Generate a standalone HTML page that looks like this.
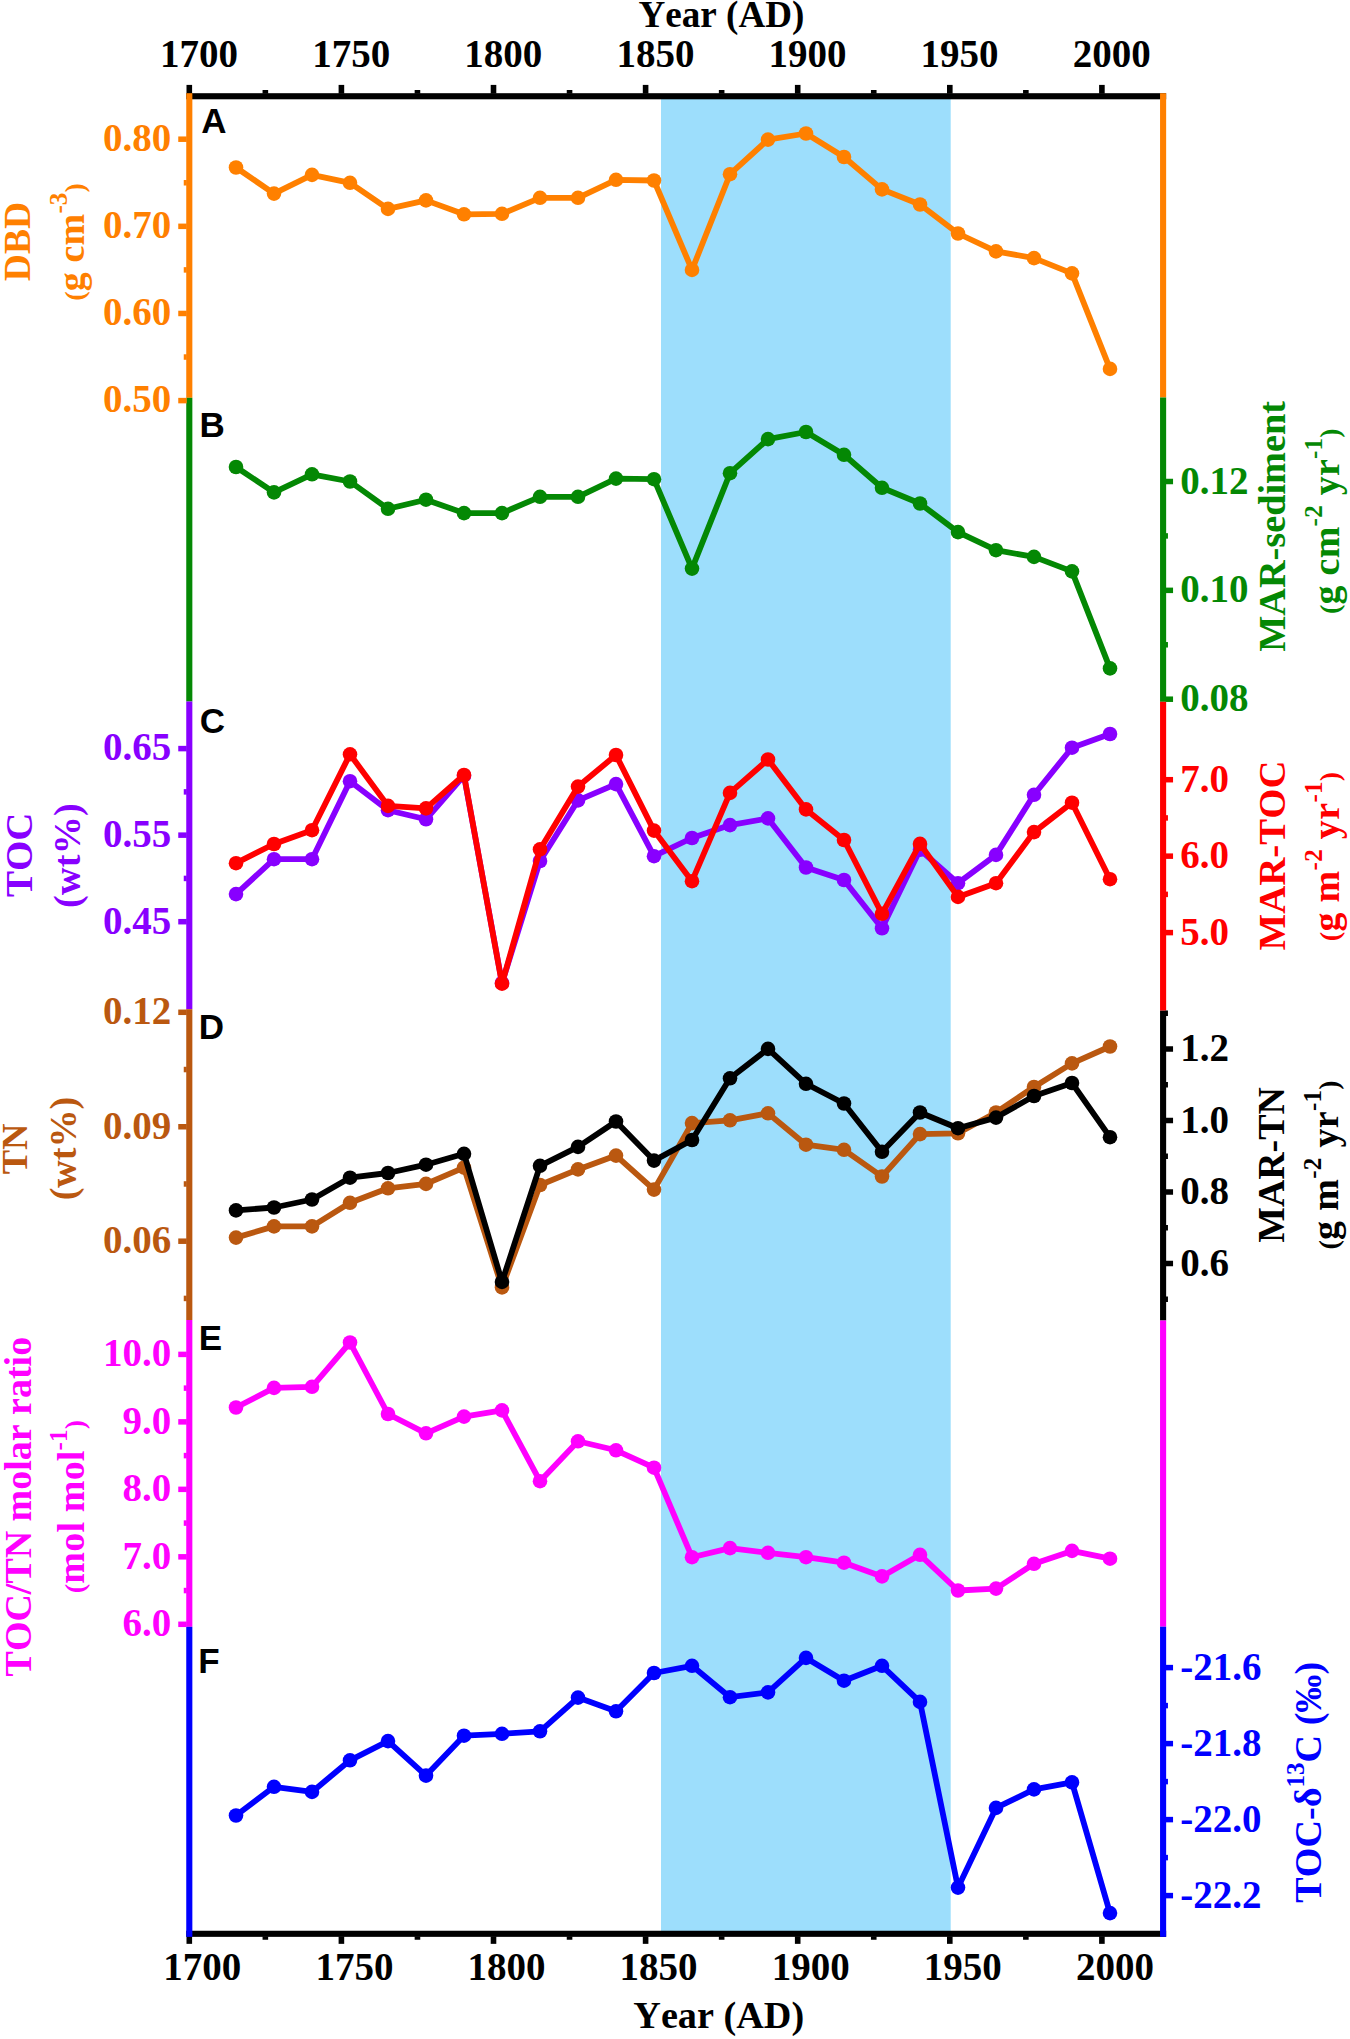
<!DOCTYPE html><html><head><meta charset="utf-8"><style>html,body{margin:0;padding:0;background:#fff;}svg{display:block} text{font-kerning:none}</style></head><body>
<svg width="1350" height="2039" viewBox="0 0 1350 2039">
<rect x="0" y="0" width="1350" height="2039" fill="#fff"/>
<rect x="661.0" y="96.25" width="289.7" height="1837.5" fill="#9DDEFC"/>
<polyline points="236.0,167.5 274.0,193.6 312.0,174.9 350.0,182.8 388.0,208.9 426.0,200.4 464.0,214.3 502.0,213.8 540.0,197.8 578.0,197.8 616.0,179.8 654.0,180.5 692.0,269.9 730.0,174.2 768.0,139.6 806.0,133.5 844.0,157.0 882.0,189.4 920.0,204.5 958.0,233.5 996.0,251.4 1034.0,258.1 1072.0,273.4 1110.0,368.9" fill="none" stroke="#FF8000" stroke-width="5.8" stroke-linejoin="round" stroke-linecap="round"/>
<g fill="#FF8000"><circle cx="236.0" cy="167.5" r="7.3"/><circle cx="274.0" cy="193.6" r="7.3"/><circle cx="312.0" cy="174.9" r="7.3"/><circle cx="350.0" cy="182.8" r="7.3"/><circle cx="388.0" cy="208.9" r="7.3"/><circle cx="426.0" cy="200.4" r="7.3"/><circle cx="464.0" cy="214.3" r="7.3"/><circle cx="502.0" cy="213.8" r="7.3"/><circle cx="540.0" cy="197.8" r="7.3"/><circle cx="578.0" cy="197.8" r="7.3"/><circle cx="616.0" cy="179.8" r="7.3"/><circle cx="654.0" cy="180.5" r="7.3"/><circle cx="692.0" cy="269.9" r="7.3"/><circle cx="730.0" cy="174.2" r="7.3"/><circle cx="768.0" cy="139.6" r="7.3"/><circle cx="806.0" cy="133.5" r="7.3"/><circle cx="844.0" cy="157.0" r="7.3"/><circle cx="882.0" cy="189.4" r="7.3"/><circle cx="920.0" cy="204.5" r="7.3"/><circle cx="958.0" cy="233.5" r="7.3"/><circle cx="996.0" cy="251.4" r="7.3"/><circle cx="1034.0" cy="258.1" r="7.3"/><circle cx="1072.0" cy="273.4" r="7.3"/><circle cx="1110.0" cy="368.9" r="7.3"/></g>
<polyline points="236.0,467.0 274.0,492.4 312.0,474.3 350.0,481.5 388.0,508.8 426.0,499.7 464.0,513.1 502.0,513.1 540.0,496.8 578.0,496.8 616.0,478.6 654.0,479.2 692.0,568.6 730.0,473.2 768.0,439.1 806.0,432.0 844.0,454.8 882.0,487.8 920.0,503.5 958.0,532.1 996.0,550.2 1034.0,556.9 1072.0,571.4 1110.0,668.4" fill="none" stroke="#048804" stroke-width="5.8" stroke-linejoin="round" stroke-linecap="round"/>
<g fill="#048804"><circle cx="236.0" cy="467.0" r="7.3"/><circle cx="274.0" cy="492.4" r="7.3"/><circle cx="312.0" cy="474.3" r="7.3"/><circle cx="350.0" cy="481.5" r="7.3"/><circle cx="388.0" cy="508.8" r="7.3"/><circle cx="426.0" cy="499.7" r="7.3"/><circle cx="464.0" cy="513.1" r="7.3"/><circle cx="502.0" cy="513.1" r="7.3"/><circle cx="540.0" cy="496.8" r="7.3"/><circle cx="578.0" cy="496.8" r="7.3"/><circle cx="616.0" cy="478.6" r="7.3"/><circle cx="654.0" cy="479.2" r="7.3"/><circle cx="692.0" cy="568.6" r="7.3"/><circle cx="730.0" cy="473.2" r="7.3"/><circle cx="768.0" cy="439.1" r="7.3"/><circle cx="806.0" cy="432.0" r="7.3"/><circle cx="844.0" cy="454.8" r="7.3"/><circle cx="882.0" cy="487.8" r="7.3"/><circle cx="920.0" cy="503.5" r="7.3"/><circle cx="958.0" cy="532.1" r="7.3"/><circle cx="996.0" cy="550.2" r="7.3"/><circle cx="1034.0" cy="556.9" r="7.3"/><circle cx="1072.0" cy="571.4" r="7.3"/><circle cx="1110.0" cy="668.4" r="7.3"/></g>
<polyline points="236.0,894.1 274.0,859.2 312.0,859.2 350.0,781.2 388.0,810.2 426.0,819.3 464.0,775.7 502.0,983.0 540.0,861.0 578.0,800.4 616.0,784.1 654.0,856.2 692.0,838.0 730.0,825.1 768.0,818.4 806.0,867.5 844.0,880.0 882.0,928.3 920.0,849.8 958.0,883.2 996.0,854.9 1034.0,794.8 1072.0,747.7 1110.0,734.0" fill="none" stroke="#8800FF" stroke-width="5.8" stroke-linejoin="round" stroke-linecap="round"/>
<g fill="#8800FF"><circle cx="236.0" cy="894.1" r="7.3"/><circle cx="274.0" cy="859.2" r="7.3"/><circle cx="312.0" cy="859.2" r="7.3"/><circle cx="350.0" cy="781.2" r="7.3"/><circle cx="388.0" cy="810.2" r="7.3"/><circle cx="426.0" cy="819.3" r="7.3"/><circle cx="464.0" cy="775.7" r="7.3"/><circle cx="502.0" cy="983.0" r="7.3"/><circle cx="540.0" cy="861.0" r="7.3"/><circle cx="578.0" cy="800.4" r="7.3"/><circle cx="616.0" cy="784.1" r="7.3"/><circle cx="654.0" cy="856.2" r="7.3"/><circle cx="692.0" cy="838.0" r="7.3"/><circle cx="730.0" cy="825.1" r="7.3"/><circle cx="768.0" cy="818.4" r="7.3"/><circle cx="806.0" cy="867.5" r="7.3"/><circle cx="844.0" cy="880.0" r="7.3"/><circle cx="882.0" cy="928.3" r="7.3"/><circle cx="920.0" cy="849.8" r="7.3"/><circle cx="958.0" cy="883.2" r="7.3"/><circle cx="996.0" cy="854.9" r="7.3"/><circle cx="1034.0" cy="794.8" r="7.3"/><circle cx="1072.0" cy="747.7" r="7.3"/><circle cx="1110.0" cy="734.0" r="7.3"/></g>
<polyline points="236.0,863.2 274.0,844.0 312.0,830.2 350.0,754.3 388.0,805.9 426.0,808.4 464.0,775.0 502.0,983.7 540.0,849.4 578.0,786.6 616.0,755.0 654.0,830.6 692.0,881.2 730.0,792.9 768.0,759.5 806.0,809.4 844.0,840.0 882.0,913.8 920.0,843.9 958.0,896.9 996.0,883.2 1034.0,832.1 1072.0,802.7 1110.0,879.2" fill="none" stroke="#FF0000" stroke-width="5.8" stroke-linejoin="round" stroke-linecap="round"/>
<g fill="#FF0000"><circle cx="236.0" cy="863.2" r="7.3"/><circle cx="274.0" cy="844.0" r="7.3"/><circle cx="312.0" cy="830.2" r="7.3"/><circle cx="350.0" cy="754.3" r="7.3"/><circle cx="388.0" cy="805.9" r="7.3"/><circle cx="426.0" cy="808.4" r="7.3"/><circle cx="464.0" cy="775.0" r="7.3"/><circle cx="502.0" cy="983.7" r="7.3"/><circle cx="540.0" cy="849.4" r="7.3"/><circle cx="578.0" cy="786.6" r="7.3"/><circle cx="616.0" cy="755.0" r="7.3"/><circle cx="654.0" cy="830.6" r="7.3"/><circle cx="692.0" cy="881.2" r="7.3"/><circle cx="730.0" cy="792.9" r="7.3"/><circle cx="768.0" cy="759.5" r="7.3"/><circle cx="806.0" cy="809.4" r="7.3"/><circle cx="844.0" cy="840.0" r="7.3"/><circle cx="882.0" cy="913.8" r="7.3"/><circle cx="920.0" cy="843.9" r="7.3"/><circle cx="958.0" cy="896.9" r="7.3"/><circle cx="996.0" cy="883.2" r="7.3"/><circle cx="1034.0" cy="832.1" r="7.3"/><circle cx="1072.0" cy="802.7" r="7.3"/><circle cx="1110.0" cy="879.2" r="7.3"/></g>
<polyline points="236.0,1237.6 274.0,1226.4 312.0,1226.4 350.0,1202.8 388.0,1188.3 426.0,1183.9 464.0,1167.6 502.0,1287.4 540.0,1185.0 578.0,1169.4 616.0,1155.6 654.0,1189.6 692.0,1123.1 730.0,1120.3 768.0,1113.3 806.0,1144.7 844.0,1149.8 882.0,1176.5 920.0,1134.1 958.0,1133.3 996.0,1112.5 1034.0,1087.0 1072.0,1063.4 1110.0,1046.5" fill="none" stroke="#BA5810" stroke-width="5.8" stroke-linejoin="round" stroke-linecap="round"/>
<g fill="#BA5810"><circle cx="236.0" cy="1237.6" r="7.3"/><circle cx="274.0" cy="1226.4" r="7.3"/><circle cx="312.0" cy="1226.4" r="7.3"/><circle cx="350.0" cy="1202.8" r="7.3"/><circle cx="388.0" cy="1188.3" r="7.3"/><circle cx="426.0" cy="1183.9" r="7.3"/><circle cx="464.0" cy="1167.6" r="7.3"/><circle cx="502.0" cy="1287.4" r="7.3"/><circle cx="540.0" cy="1185.0" r="7.3"/><circle cx="578.0" cy="1169.4" r="7.3"/><circle cx="616.0" cy="1155.6" r="7.3"/><circle cx="654.0" cy="1189.6" r="7.3"/><circle cx="692.0" cy="1123.1" r="7.3"/><circle cx="730.0" cy="1120.3" r="7.3"/><circle cx="768.0" cy="1113.3" r="7.3"/><circle cx="806.0" cy="1144.7" r="7.3"/><circle cx="844.0" cy="1149.8" r="7.3"/><circle cx="882.0" cy="1176.5" r="7.3"/><circle cx="920.0" cy="1134.1" r="7.3"/><circle cx="958.0" cy="1133.3" r="7.3"/><circle cx="996.0" cy="1112.5" r="7.3"/><circle cx="1034.0" cy="1087.0" r="7.3"/><circle cx="1072.0" cy="1063.4" r="7.3"/><circle cx="1110.0" cy="1046.5" r="7.3"/></g>
<polyline points="236.0,1210.4 274.0,1207.5 312.0,1199.5 350.0,1177.7 388.0,1173.0 426.0,1164.7 464.0,1153.8 502.0,1281.9 540.0,1165.8 578.0,1146.9 616.0,1121.5 654.0,1160.6 692.0,1140.0 730.0,1078.3 768.0,1048.9 806.0,1083.8 844.0,1103.5 882.0,1151.8 920.0,1112.5 958.0,1128.2 996.0,1117.6 1034.0,1096.0 1072.0,1083.0 1110.0,1137.2" fill="none" stroke="#000000" stroke-width="5.8" stroke-linejoin="round" stroke-linecap="round"/>
<g fill="#000000"><circle cx="236.0" cy="1210.4" r="7.3"/><circle cx="274.0" cy="1207.5" r="7.3"/><circle cx="312.0" cy="1199.5" r="7.3"/><circle cx="350.0" cy="1177.7" r="7.3"/><circle cx="388.0" cy="1173.0" r="7.3"/><circle cx="426.0" cy="1164.7" r="7.3"/><circle cx="464.0" cy="1153.8" r="7.3"/><circle cx="502.0" cy="1281.9" r="7.3"/><circle cx="540.0" cy="1165.8" r="7.3"/><circle cx="578.0" cy="1146.9" r="7.3"/><circle cx="616.0" cy="1121.5" r="7.3"/><circle cx="654.0" cy="1160.6" r="7.3"/><circle cx="692.0" cy="1140.0" r="7.3"/><circle cx="730.0" cy="1078.3" r="7.3"/><circle cx="768.0" cy="1048.9" r="7.3"/><circle cx="806.0" cy="1083.8" r="7.3"/><circle cx="844.0" cy="1103.5" r="7.3"/><circle cx="882.0" cy="1151.8" r="7.3"/><circle cx="920.0" cy="1112.5" r="7.3"/><circle cx="958.0" cy="1128.2" r="7.3"/><circle cx="996.0" cy="1117.6" r="7.3"/><circle cx="1034.0" cy="1096.0" r="7.3"/><circle cx="1072.0" cy="1083.0" r="7.3"/><circle cx="1110.0" cy="1137.2" r="7.3"/></g>
<polyline points="236.0,1407.5 274.0,1387.9 312.0,1386.8 350.0,1342.5 388.0,1414.0 426.0,1433.3 464.0,1416.6 502.0,1410.4 540.0,1481.2 578.0,1441.3 616.0,1450.3 654.0,1467.7 692.0,1557.2 730.0,1548.1 768.0,1552.8 806.0,1557.2 844.0,1562.7 882.0,1576.4 920.0,1554.8 958.0,1590.5 996.0,1588.6 1034.0,1563.8 1072.0,1550.9 1110.0,1558.7" fill="none" stroke="#FF00FF" stroke-width="5.8" stroke-linejoin="round" stroke-linecap="round"/>
<g fill="#FF00FF"><circle cx="236.0" cy="1407.5" r="7.3"/><circle cx="274.0" cy="1387.9" r="7.3"/><circle cx="312.0" cy="1386.8" r="7.3"/><circle cx="350.0" cy="1342.5" r="7.3"/><circle cx="388.0" cy="1414.0" r="7.3"/><circle cx="426.0" cy="1433.3" r="7.3"/><circle cx="464.0" cy="1416.6" r="7.3"/><circle cx="502.0" cy="1410.4" r="7.3"/><circle cx="540.0" cy="1481.2" r="7.3"/><circle cx="578.0" cy="1441.3" r="7.3"/><circle cx="616.0" cy="1450.3" r="7.3"/><circle cx="654.0" cy="1467.7" r="7.3"/><circle cx="692.0" cy="1557.2" r="7.3"/><circle cx="730.0" cy="1548.1" r="7.3"/><circle cx="768.0" cy="1552.8" r="7.3"/><circle cx="806.0" cy="1557.2" r="7.3"/><circle cx="844.0" cy="1562.7" r="7.3"/><circle cx="882.0" cy="1576.4" r="7.3"/><circle cx="920.0" cy="1554.8" r="7.3"/><circle cx="958.0" cy="1590.5" r="7.3"/><circle cx="996.0" cy="1588.6" r="7.3"/><circle cx="1034.0" cy="1563.8" r="7.3"/><circle cx="1072.0" cy="1550.9" r="7.3"/><circle cx="1110.0" cy="1558.7" r="7.3"/></g>
<polyline points="236.0,1815.5 274.0,1786.8 312.0,1791.9 350.0,1760.3 388.0,1741.1 426.0,1775.6 464.0,1735.7 502.0,1733.8 540.0,1731.3 578.0,1697.6 616.0,1711.3 654.0,1673.0 692.0,1665.8 730.0,1697.2 768.0,1692.4 806.0,1657.9 844.0,1680.7 882.0,1665.8 920.0,1701.9 958.0,1887.6 996.0,1807.9 1034.0,1789.4 1072.0,1782.4 1110.0,1913.1" fill="none" stroke="#0000FF" stroke-width="5.8" stroke-linejoin="round" stroke-linecap="round"/>
<g fill="#0000FF"><circle cx="236.0" cy="1815.5" r="7.3"/><circle cx="274.0" cy="1786.8" r="7.3"/><circle cx="312.0" cy="1791.9" r="7.3"/><circle cx="350.0" cy="1760.3" r="7.3"/><circle cx="388.0" cy="1741.1" r="7.3"/><circle cx="426.0" cy="1775.6" r="7.3"/><circle cx="464.0" cy="1735.7" r="7.3"/><circle cx="502.0" cy="1733.8" r="7.3"/><circle cx="540.0" cy="1731.3" r="7.3"/><circle cx="578.0" cy="1697.6" r="7.3"/><circle cx="616.0" cy="1711.3" r="7.3"/><circle cx="654.0" cy="1673.0" r="7.3"/><circle cx="692.0" cy="1665.8" r="7.3"/><circle cx="730.0" cy="1697.2" r="7.3"/><circle cx="768.0" cy="1692.4" r="7.3"/><circle cx="806.0" cy="1657.9" r="7.3"/><circle cx="844.0" cy="1680.7" r="7.3"/><circle cx="882.0" cy="1665.8" r="7.3"/><circle cx="920.0" cy="1701.9" r="7.3"/><circle cx="958.0" cy="1887.6" r="7.3"/><circle cx="996.0" cy="1807.9" r="7.3"/><circle cx="1034.0" cy="1789.4" r="7.3"/><circle cx="1072.0" cy="1782.4" r="7.3"/><circle cx="1110.0" cy="1913.1" r="7.3"/></g>
<rect x="186.25" y="93.20" width="979.90" height="6.1" fill="#000"/>
<rect x="186.25" y="1930.75" width="979.90" height="6.1" fill="#000"/>
<rect x="186.50" y="84.90" width="5.6" height="8.8" fill="#000"/>
<rect x="186.50" y="1936.35" width="5.6" height="7.5" fill="#000"/>
<rect x="262.55" y="90.00" width="5.6" height="3.7" fill="#000"/>
<rect x="262.55" y="1936.35" width="5.6" height="3.4" fill="#000"/>
<rect x="338.60" y="84.90" width="5.6" height="8.8" fill="#000"/>
<rect x="338.60" y="1936.35" width="5.6" height="7.5" fill="#000"/>
<rect x="414.65" y="90.00" width="5.6" height="3.7" fill="#000"/>
<rect x="414.65" y="1936.35" width="5.6" height="3.4" fill="#000"/>
<rect x="490.70" y="84.90" width="5.6" height="8.8" fill="#000"/>
<rect x="490.70" y="1936.35" width="5.6" height="7.5" fill="#000"/>
<rect x="566.75" y="90.00" width="5.6" height="3.7" fill="#000"/>
<rect x="566.75" y="1936.35" width="5.6" height="3.4" fill="#000"/>
<rect x="642.80" y="84.90" width="5.6" height="8.8" fill="#000"/>
<rect x="642.80" y="1936.35" width="5.6" height="7.5" fill="#000"/>
<rect x="718.85" y="90.00" width="5.6" height="3.7" fill="#000"/>
<rect x="718.85" y="1936.35" width="5.6" height="3.4" fill="#000"/>
<rect x="794.90" y="84.90" width="5.6" height="8.8" fill="#000"/>
<rect x="794.90" y="1936.35" width="5.6" height="7.5" fill="#000"/>
<rect x="870.95" y="90.00" width="5.6" height="3.7" fill="#000"/>
<rect x="870.95" y="1936.35" width="5.6" height="3.4" fill="#000"/>
<rect x="947.00" y="84.90" width="5.6" height="8.8" fill="#000"/>
<rect x="947.00" y="1936.35" width="5.6" height="7.5" fill="#000"/>
<rect x="1023.05" y="90.00" width="5.6" height="3.7" fill="#000"/>
<rect x="1023.05" y="1936.35" width="5.6" height="3.4" fill="#000"/>
<rect x="1099.10" y="84.90" width="5.6" height="8.8" fill="#000"/>
<rect x="1099.10" y="1936.35" width="5.6" height="7.5" fill="#000"/>
<rect x="186.25" y="93.20" width="6.1" height="304.60" fill="#FF8000"/>
<rect x="186.25" y="397.80" width="6.1" height="303.70" fill="#048804"/>
<rect x="186.25" y="701.50" width="6.1" height="307.70" fill="#8800FF"/>
<rect x="186.25" y="1009.20" width="6.1" height="310.80" fill="#BA5810"/>
<rect x="186.25" y="1320.00" width="6.1" height="306.80" fill="#FF00FF"/>
<rect x="186.25" y="1626.80" width="6.1" height="310.05" fill="#0000FF"/>
<rect x="1160.05" y="93.20" width="6.1" height="304.30" fill="#FF8000"/>
<rect x="1160.05" y="397.50" width="6.1" height="304.30" fill="#048804"/>
<rect x="1160.05" y="701.80" width="6.1" height="308.90" fill="#FF0000"/>
<rect x="1160.05" y="1010.70" width="6.1" height="309.80" fill="#000000"/>
<rect x="1160.05" y="1320.50" width="6.1" height="306.20" fill="#FF00FF"/>
<rect x="1160.05" y="1626.70" width="6.1" height="310.15" fill="#0000FF"/>
<rect x="178.25" y="136.45" width="8.5" height="5.5" fill="#FF8000"/>
<rect x="183.75" y="180.02" width="3.0" height="5.5" fill="#FF8000"/>
<rect x="178.25" y="223.58" width="8.5" height="5.5" fill="#FF8000"/>
<rect x="183.75" y="267.15" width="3.0" height="5.5" fill="#FF8000"/>
<rect x="178.25" y="310.72" width="8.5" height="5.5" fill="#FF8000"/>
<rect x="183.75" y="354.28" width="3.0" height="5.5" fill="#FF8000"/>
<rect x="178.25" y="397.85" width="8.5" height="5.5" fill="#FF8000"/>
<rect x="178.25" y="745.85" width="8.5" height="5.5" fill="#8800FF"/>
<rect x="183.75" y="789.13" width="3.0" height="5.5" fill="#8800FF"/>
<rect x="178.25" y="832.40" width="8.5" height="5.5" fill="#8800FF"/>
<rect x="183.75" y="875.68" width="3.0" height="5.5" fill="#8800FF"/>
<rect x="178.25" y="918.95" width="8.5" height="5.5" fill="#8800FF"/>
<rect x="178.25" y="1009.55" width="8.5" height="5.5" fill="#BA5810"/>
<rect x="183.75" y="1066.78" width="3.0" height="5.5" fill="#BA5810"/>
<rect x="178.25" y="1124.00" width="8.5" height="5.5" fill="#BA5810"/>
<rect x="183.75" y="1181.22" width="3.0" height="5.5" fill="#BA5810"/>
<rect x="178.25" y="1238.45" width="8.5" height="5.5" fill="#BA5810"/>
<rect x="183.75" y="1295.68" width="3.0" height="5.5" fill="#BA5810"/>
<rect x="178.25" y="1351.65" width="8.5" height="5.5" fill="#FF00FF"/>
<rect x="183.75" y="1385.39" width="3.0" height="5.5" fill="#FF00FF"/>
<rect x="178.25" y="1419.12" width="8.5" height="5.5" fill="#FF00FF"/>
<rect x="183.75" y="1452.86" width="3.0" height="5.5" fill="#FF00FF"/>
<rect x="178.25" y="1486.60" width="8.5" height="5.5" fill="#FF00FF"/>
<rect x="183.75" y="1520.34" width="3.0" height="5.5" fill="#FF00FF"/>
<rect x="178.25" y="1554.08" width="8.5" height="5.5" fill="#FF00FF"/>
<rect x="183.75" y="1587.81" width="3.0" height="5.5" fill="#FF00FF"/>
<rect x="178.25" y="1621.55" width="8.5" height="5.5" fill="#FF00FF"/>
<rect x="1165.65" y="478.75" width="7.4" height="5.5" fill="#048804"/>
<rect x="1165.65" y="533.17" width="2.3" height="5.5" fill="#048804"/>
<rect x="1165.65" y="587.60" width="7.4" height="5.5" fill="#048804"/>
<rect x="1165.65" y="642.03" width="2.3" height="5.5" fill="#048804"/>
<rect x="1165.65" y="696.45" width="7.4" height="5.5" fill="#048804"/>
<rect x="1165.65" y="776.95" width="7.4" height="5.5" fill="#FF0000"/>
<rect x="1165.65" y="815.18" width="2.3" height="5.5" fill="#FF0000"/>
<rect x="1165.65" y="853.40" width="7.4" height="5.5" fill="#FF0000"/>
<rect x="1165.65" y="891.62" width="2.3" height="5.5" fill="#FF0000"/>
<rect x="1165.65" y="929.85" width="7.4" height="5.5" fill="#FF0000"/>
<rect x="1165.65" y="1010.50" width="2.3" height="5.5" fill="#000000"/>
<rect x="1165.65" y="1046.25" width="7.4" height="5.5" fill="#000000"/>
<rect x="1165.65" y="1082.00" width="2.3" height="5.5" fill="#000000"/>
<rect x="1165.65" y="1117.75" width="7.4" height="5.5" fill="#000000"/>
<rect x="1165.65" y="1153.50" width="2.3" height="5.5" fill="#000000"/>
<rect x="1165.65" y="1189.25" width="7.4" height="5.5" fill="#000000"/>
<rect x="1165.65" y="1225.00" width="2.3" height="5.5" fill="#000000"/>
<rect x="1165.65" y="1260.75" width="7.4" height="5.5" fill="#000000"/>
<rect x="1165.65" y="1296.50" width="2.3" height="5.5" fill="#000000"/>
<rect x="1165.65" y="1664.85" width="7.4" height="5.5" fill="#0000FF"/>
<rect x="1165.65" y="1702.85" width="2.3" height="5.5" fill="#0000FF"/>
<rect x="1165.65" y="1740.85" width="7.4" height="5.5" fill="#0000FF"/>
<rect x="1165.65" y="1778.85" width="2.3" height="5.5" fill="#0000FF"/>
<rect x="1165.65" y="1816.85" width="7.4" height="5.5" fill="#0000FF"/>
<rect x="1165.65" y="1854.85" width="2.3" height="5.5" fill="#0000FF"/>
<rect x="1165.65" y="1892.85" width="7.4" height="5.5" fill="#0000FF"/>
<g font-family='"Liberation Serif", serif' font-weight="bold" font-size="39">
<text x="171.2" y="151.0" text-anchor="end" fill="#FF8000">0.80</text>
<text x="171.2" y="238.1" text-anchor="end" fill="#FF8000">0.70</text>
<text x="171.2" y="325.3" text-anchor="end" fill="#FF8000">0.60</text>
<text x="171.2" y="412.4" text-anchor="end" fill="#FF8000">0.50</text>
<text x="171.2" y="760.4" text-anchor="end" fill="#8800FF">0.65</text>
<text x="171.2" y="846.9" text-anchor="end" fill="#8800FF">0.55</text>
<text x="171.2" y="933.5" text-anchor="end" fill="#8800FF">0.45</text>
<text x="171.2" y="1024.1" text-anchor="end" fill="#BA5810">0.12</text>
<text x="171.2" y="1138.5" text-anchor="end" fill="#BA5810">0.09</text>
<text x="171.2" y="1253.0" text-anchor="end" fill="#BA5810">0.06</text>
<text x="171.2" y="1366.2" text-anchor="end" fill="#FF00FF">10.0</text>
<text x="171.2" y="1433.7" text-anchor="end" fill="#FF00FF">9.0</text>
<text x="171.2" y="1501.1" text-anchor="end" fill="#FF00FF">8.0</text>
<text x="171.2" y="1568.6" text-anchor="end" fill="#FF00FF">7.0</text>
<text x="171.2" y="1636.1" text-anchor="end" fill="#FF00FF">6.0</text>
<text x="1180.3" y="493.5" fill="#048804">0.12</text>
<text x="1180.3" y="602.4" fill="#048804">0.10</text>
<text x="1180.3" y="711.2" fill="#048804">0.08</text>
<text x="1180.3" y="791.7" fill="#FF0000">7.0</text>
<text x="1180.3" y="868.2" fill="#FF0000">6.0</text>
<text x="1180.3" y="944.6" fill="#FF0000">5.0</text>
<text x="1180.3" y="1061.0" fill="#000000">1.2</text>
<text x="1180.3" y="1132.5" fill="#000000">1.0</text>
<text x="1180.3" y="1204.0" fill="#000000">0.8</text>
<text x="1180.3" y="1275.5" fill="#000000">0.6</text>
<text x="1180.3" y="1679.6" fill="#0000FF">-21.6</text>
<text x="1180.3" y="1755.6" fill="#0000FF">-21.8</text>
<text x="1180.3" y="1831.6" fill="#0000FF">-22.0</text>
<text x="1180.3" y="1907.6" fill="#0000FF">-22.2</text>
</g>
<g font-family='"Liberation Serif", serif' font-weight="bold" font-size="39" text-anchor="middle">
<text x="199.1" y="66.7">1700</text>
<text x="202.3" y="1979.8">1700</text>
<text x="351.2" y="66.7">1750</text>
<text x="354.4" y="1979.8">1750</text>
<text x="503.3" y="66.7">1800</text>
<text x="506.5" y="1979.8">1800</text>
<text x="655.4" y="66.7">1850</text>
<text x="658.6" y="1979.8">1850</text>
<text x="807.5" y="66.7">1900</text>
<text x="810.7" y="1979.8">1900</text>
<text x="959.6" y="66.7">1950</text>
<text x="962.8" y="1979.8">1950</text>
<text x="1111.7" y="66.7">2000</text>
<text x="1114.9" y="1979.8">2000</text>
</g>
<text x="721.40" y="26.7" font-family='"Liberation Serif", serif' font-weight="bold" font-size="37.12" text-anchor="middle" letter-spacing="0.00">Year (AD)</text>
<text x="718.72" y="2028.4" font-family='"Liberation Serif", serif' font-weight="bold" font-size="38.22" text-anchor="middle" letter-spacing="0.00">Year (AD)</text>
<g font-family='"Liberation Sans", sans-serif' font-weight="bold" font-size="35">
<text x="201.2" y="133.0">A</text>
<text x="199.5" y="436.7">B</text>
<text x="199.8" y="733.4">C</text>
<text x="198.7" y="1039.1">D</text>
<text x="198.7" y="1350.1">E</text>
<text x="198.3" y="1673.4">F</text>
</g>
<text transform="translate(29.70,241.48) rotate(-90)" x="0" y="0" text-anchor="middle" font-family='"Liberation Serif", serif' font-weight="bold" font-size="37.57" fill="#FF8000">DBD</text>
<text transform="translate(84.00,241.84) rotate(-90)" x="0" y="0" text-anchor="middle" font-family='"Liberation Serif", serif' font-weight="bold" font-size="38.00" fill="#FF8000" letter-spacing="0.14"><tspan font-size="28">(</tspan>g cm<tspan font-size="25.0" dy="-16.8">-3</tspan><tspan dy="16.8"><tspan font-size="28">)</tspan></tspan></text>
<text transform="translate(31.50,854.88) rotate(-90)" x="0" y="0" text-anchor="middle" font-family='"Liberation Serif", serif' font-weight="bold" font-size="38.97" fill="#8800FF">TOC</text>
<text transform="translate(79.50,855.42) rotate(-90)" x="0" y="0" text-anchor="middle" font-family='"Liberation Serif", serif' font-weight="bold" font-size="38.00" fill="#8800FF" letter-spacing="0.32">(wt%)</text>
<text transform="translate(26.60,1148.96) rotate(-90)" x="0" y="0" text-anchor="middle" font-family='"Liberation Serif", serif' font-weight="bold" font-size="36.57" fill="#BA5810">TN</text>
<text transform="translate(76.00,1148.56) rotate(-90)" x="0" y="0" text-anchor="middle" font-family='"Liberation Serif", serif' font-weight="bold" font-size="38.00" fill="#BA5810" letter-spacing="0.04">(wt%)</text>
<text transform="translate(30.50,1506.66) rotate(-90)" x="0" y="0" text-anchor="middle" font-family='"Liberation Serif", serif' font-weight="bold" font-size="37.98" fill="#FF00FF">TOC/TN molar ratio</text>
<text transform="translate(84.00,1506.42) rotate(-90)" x="0" y="0" text-anchor="middle" font-family='"Liberation Serif", serif' font-weight="bold" font-size="38.00" fill="#FF00FF" letter-spacing="0.19"><tspan font-size="28">(</tspan>mol mol<tspan font-size="25.0" dy="-16.8">-1</tspan><tspan dy="16.8"><tspan font-size="28">)</tspan></tspan></text>
<text transform="translate(1285.30,526.44) rotate(-90)" x="0" y="0" text-anchor="middle" font-family='"Liberation Serif", serif' font-weight="bold" font-size="38.27" fill="#048804">MAR-sediment</text>
<text transform="translate(1338.50,521.04) rotate(-90)" x="0" y="0" text-anchor="middle" font-family='"Liberation Serif", serif' font-weight="bold" font-size="38.00" fill="#048804" letter-spacing="0.25"><tspan font-size="28">(</tspan>g cm<tspan font-size="25.0" dy="-16.8">-2</tspan><tspan dy="16.8"> yr</tspan><tspan font-size="25.0" dy="-16.8">-1</tspan><tspan dy="16.8"><tspan font-size="28">)</tspan></tspan></text>
<text transform="translate(1284.80,855.48) rotate(-90)" x="0" y="0" text-anchor="middle" font-family='"Liberation Serif", serif' font-weight="bold" font-size="38.90" fill="#FF0000">MAR-TOC</text>
<text transform="translate(1338.80,856.34) rotate(-90)" x="0" y="0" text-anchor="middle" font-family='"Liberation Serif", serif' font-weight="bold" font-size="38.00" fill="#FF0000" letter-spacing="0.32"><tspan font-size="28">(</tspan>g m<tspan font-size="25.0" dy="-16.8">-2</tspan><tspan dy="16.8"> yr</tspan><tspan font-size="25.0" dy="-16.8">-1</tspan><tspan dy="16.8"><tspan font-size="28">)</tspan></tspan></text>
<text transform="translate(1284.00,1165.00) rotate(-90)" x="0" y="0" text-anchor="middle" font-family='"Liberation Serif", serif' font-weight="bold" font-size="37.82" fill="#000000">MAR-TN</text>
<text transform="translate(1338.00,1164.78) rotate(-90)" x="0" y="0" text-anchor="middle" font-family='"Liberation Serif", serif' font-weight="bold" font-size="38.00" fill="#000000" letter-spacing="0.31"><tspan font-size="28">(</tspan>g m<tspan font-size="25.0" dy="-16.8">-2</tspan><tspan dy="16.8"> yr</tspan><tspan font-size="25.0" dy="-16.8">-1</tspan><tspan dy="16.8"><tspan font-size="28">)</tspan></tspan></text>
<text transform="translate(1321.20,1782.24) rotate(-90)" x="0" y="0" text-anchor="middle" font-family='"Liberation Serif", serif' font-weight="bold" font-size="38.19" fill="#0000FF">TOC-δ<tspan font-size="25.0" dy="-16.8">13</tspan><tspan dy="16.8">C (‰)</tspan></text>
</svg></body></html>
